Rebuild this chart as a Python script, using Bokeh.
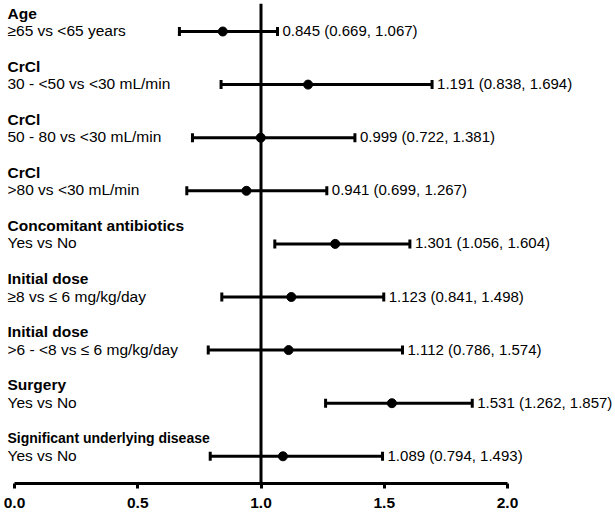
from bokeh.plotting import figure
from bokeh.models import Range1d, Span, FixedTicker, PrintfTickFormatter, ColumnDataSource
from bokeh.embed import file_html
from bokeh.resources import INLINE
from bokeh.core.properties import value
import math

titles = ["Age", "CrCl", "CrCl", "CrCl", "Concomitant antibiotics", "Initial dose",
          "Initial dose", "Surgery", "Significant underlying disease"]
subtitles = ["\u226565 vs <65 years", "30 - <50 vs <30 mL/min", "50 - 80 vs <30 mL/min",
             ">80 vs <30 mL/min", "Yes vs No", "\u22658 vs \u2264 6 mg/kg/day",
             ">6 - <8 vs \u2264 6 mg/kg/day", "Yes vs No", "Yes vs No"]
odds = [0.845, 1.191, 0.999, 0.941, 1.301, 1.123, 1.112, 1.531, 1.089]
lower = [0.669, 0.838, 0.722, 0.699, 1.056, 0.841, 0.786, 1.262, 0.794]
upper = [1.067, 1.694, 1.381, 1.267, 1.604, 1.498, 1.574, 1.857, 1.493]
ticks = [0.0, 0.5, 1.0, 1.5, 2.0]
ref_value = 1.0

n = len(titles)
rows = list(range(n))
labels_txt = [f"{o:.3f} ({l:.3f}, {h:.3f})" for o, l, h in zip(odds, lower, upper)]
title_sizes = ["15.5px"] * (n - 1) + ["14px"]

FONT = "Liberation Sans"
px_per_unit = 246.5
frame_w, frame_h = 615, 480
top_border = 3
left_pad = 14
row_top = 28
row_gap = 53.1

x_start = -left_pad / px_per_unit
x_end = (frame_w - left_pad) / px_per_unit
y_top = -row_top / row_gap
y_bottom = (frame_h - row_top) / row_gap
label_x = x_start + 7 / px_per_unit

p = figure(frame_width=frame_w, frame_height=frame_h, output_backend="svg",
           toolbar_location=None, x_range=Range1d(x_start, x_end),
           y_range=Range1d(y_bottom, y_top), y_axis_location=None,
           min_border=0, min_border_left=0, min_border_right=0,
           min_border_top=top_border, min_border_bottom=0)
p.outline_line_color = None
p.xgrid.visible = False
p.ygrid.visible = False
p.background_fill_color = "white"
p.border_fill_color = "white"

src = ColumnDataSource(dict(y=rows, o=odds, lo=lower, hi=upper, t=titles,
                            s=subtitles, v=labels_txt, ts=title_sizes,
                            lx=[label_x] * n))

p.add_layout(Span(location=ref_value, dimension="height", line_color="black",
                  line_width=3))

p.segment(x0="lo", x1="hi", y0="y", y1="y", source=src, line_color="black", line_width=3)
p.scatter(x="lo", y="y", source=src, marker="dash", angle=math.pi / 2, size=9,
          line_color="black", line_width=3)
p.scatter(x="hi", y="y", source=src, marker="dash", angle=math.pi / 2, size=9,
          line_color="black", line_width=3)
p.scatter(x="o", y="y", source=src, marker="circle", size=9,
          fill_color="black", line_color="black")

p.text(x="hi", y="y", text="v", source=src, text_font=value(FONT),
       text_font_size="15px", text_baseline="alphabetic", text_align="left",
       x_offset=5, y_offset=-1, text_color="black")
p.text(x="lx", y="y", text="s", source=src, text_font=value(FONT),
       text_font_size="15.5px", text_baseline="alphabetic", text_align="left",
       x_offset=0, y_offset=-1, text_color="black")
p.text(x="lx", y="y", text="t", source=src, text_font=value(FONT),
       text_font_size="ts", text_font_style="bold", text_baseline="alphabetic",
       text_align="left", x_offset=0, y_offset=-18.5, text_color="black")

ax = p.xaxis[0]
ax.bounds = (ticks[0], ticks[-1])
ax.ticker = FixedTicker(ticks=ticks, minor_ticks=[])
ax.formatter = PrintfTickFormatter(format="%.1f")
ax.axis_line_width = 3
ax.axis_line_color = "black"
ax.major_tick_line_width = 3
ax.major_tick_line_color = "black"
ax.major_tick_out = 5
ax.major_tick_in = 0
ax.minor_tick_line_color = None
ax.major_label_text_font = FONT
ax.major_label_text_font_size = "15.5px"
ax.major_label_text_font_style = "bold"
ax.major_label_text_color = "black"
ax.major_label_standoff = 9

open("out.html", "w").write(file_html(p, INLINE))
